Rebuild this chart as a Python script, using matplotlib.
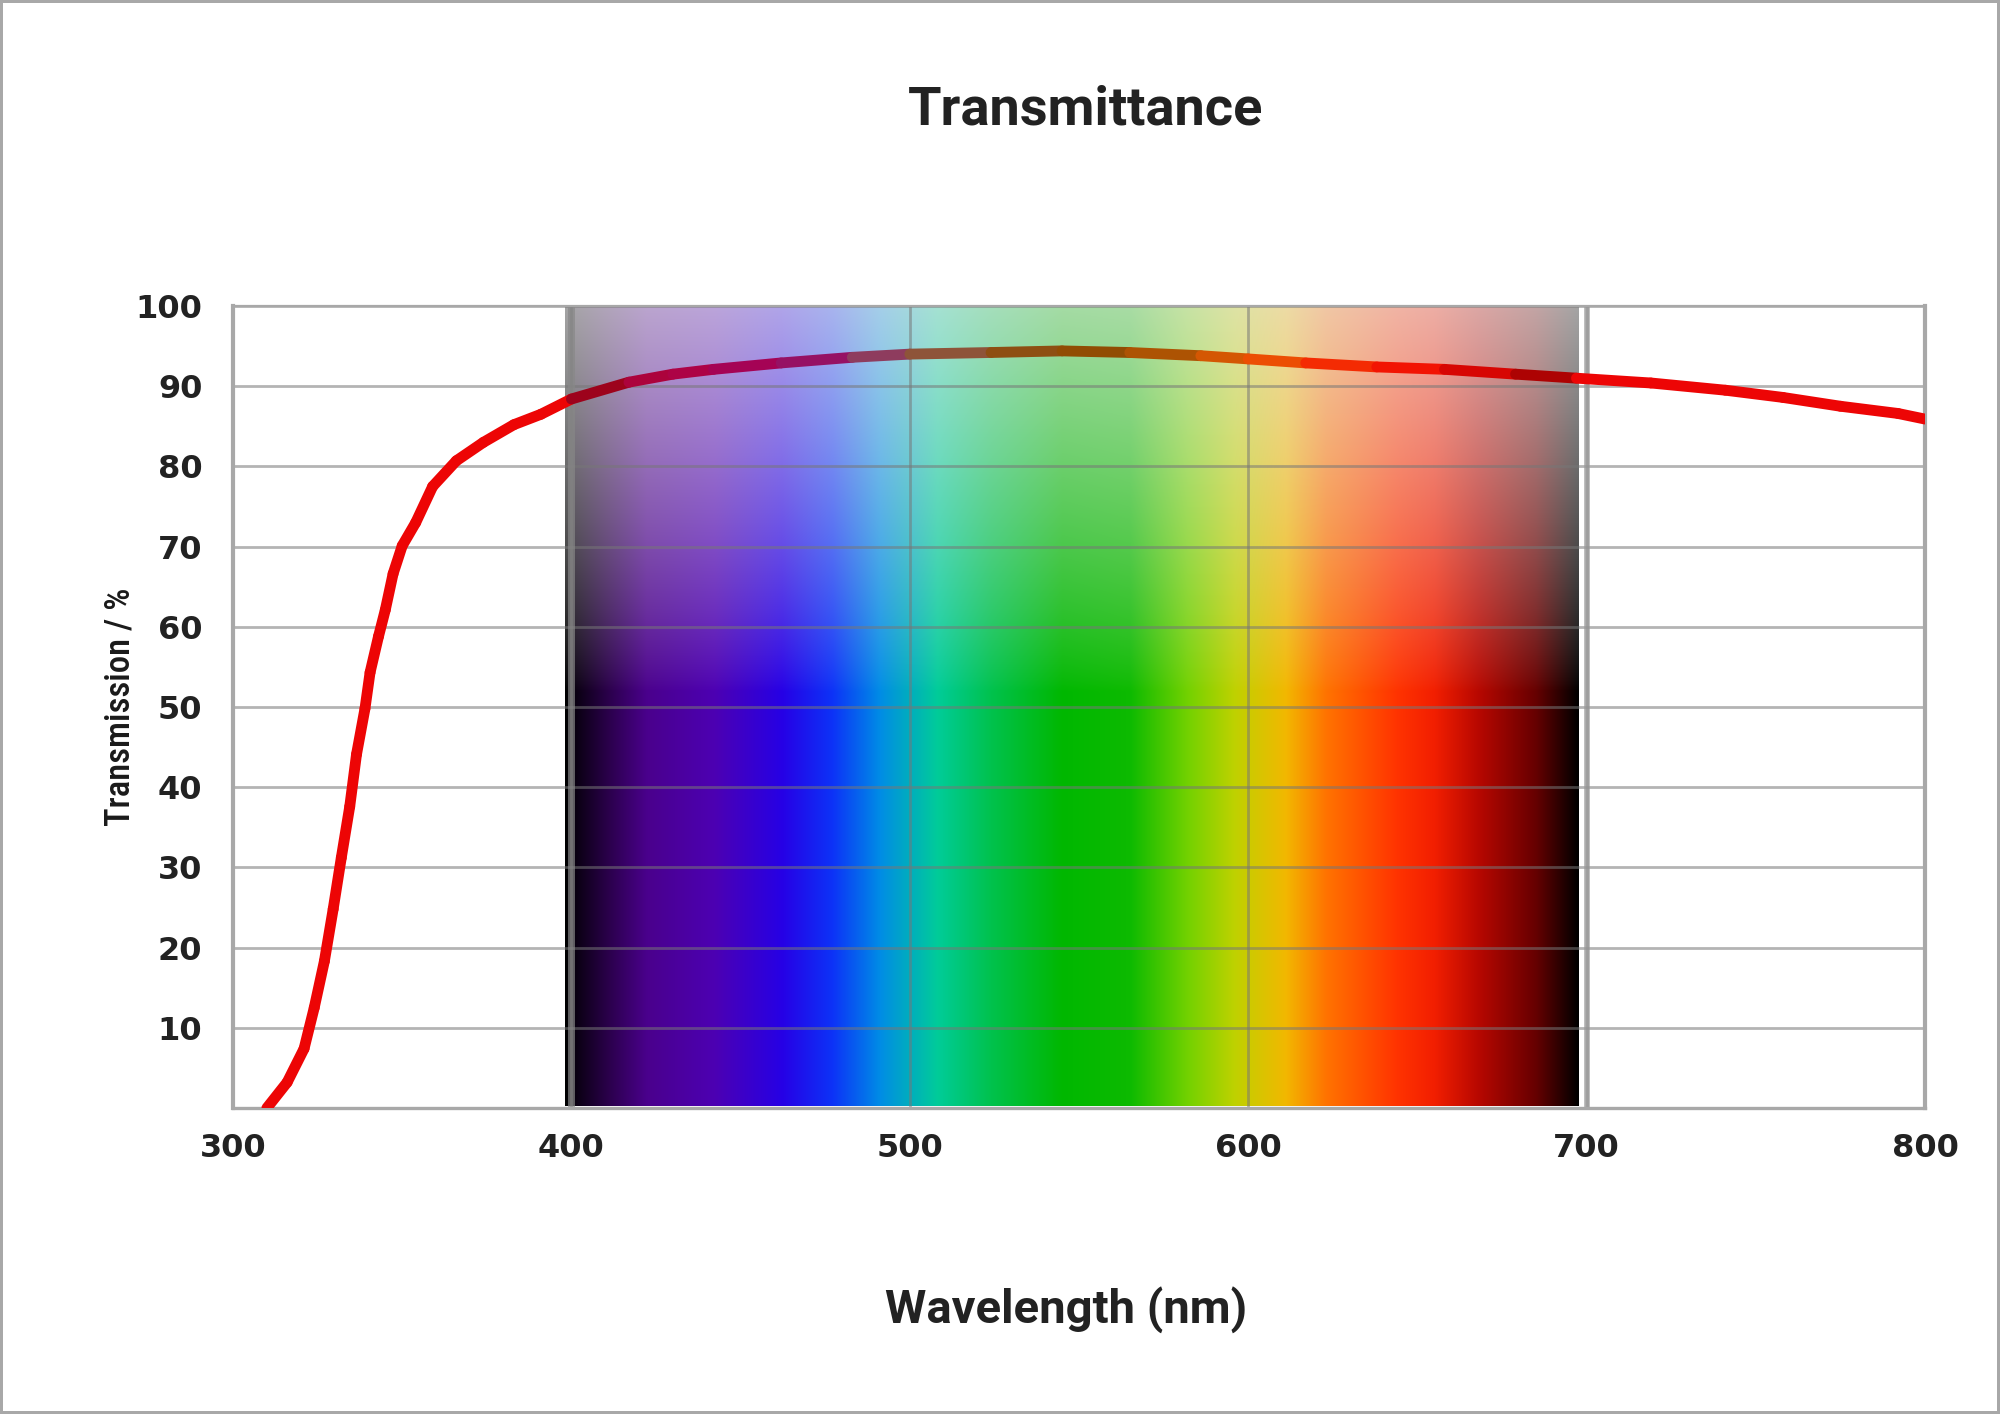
import numpy as np
import matplotlib
matplotlib.use('Agg')
from matplotlib import pyplot as plt
from matplotlib.collections import LineCollection

# curve
wavelength = [310, 316, 321, 324, 327, 329.6, 332, 334.5, 336.5, 339, 340.5, 343, 345, 347.3, 350,
              354, 359, 366, 374, 383, 391, 400, 417, 430, 442, 462, 483, 500, 524, 545,
              565, 586, 600, 617, 638, 658, 679, 697, 719, 741, 758, 775, 792, 800]
transmission = [0, 3.2, 7.4, 12.5, 18.3, 24.8, 31.2, 37.6, 44.1, 49.8, 54.3, 58.8, 62.1, 66.6, 70.1,
                73.0, 77.5, 80.7, 83.0, 85.2, 86.5, 88.4, 90.5, 91.5, 92.1, 92.9, 93.6, 94.0, 94.2, 94.4,
                94.2, 93.8, 93.4, 92.9, 92.4, 92.1, 91.5, 91.0, 90.4, 89.5, 88.6, 87.5, 86.6, 85.9]

x_ticks = [300, 400, 500, 600, 700, 800]
y_ticks = [10, 20, 30, 40, 50, 60, 70, 80, 90, 100]

# visible spectrum band behind the curve
spec_nm = [398, 410, 422, 442, 462, 477, 491, 508, 524, 545, 565, 582, 596, 611, 623, 644, 655, 668, 685, 697.5]
spec_rgb = [(0, 0, 0), (0.16, 0, 0.28), (0.29, 0, 0.55), (0.3, 0, 0.7), (0.15, 0, 0.9),
            (0.05, 0.2, 0.97), (0, 0.55, 0.9), (0, 0.8, 0.6), (0, 0.76, 0.3), (0, 0.72, 0),
            (0.05, 0.73, 0), (0.45, 0.82, 0), (0.75, 0.82, 0), (0.95, 0.72, 0), (1, 0.45, 0),
            (1, 0.2, 0), (0.95, 0.12, 0), (0.72, 0.03, 0), (0.4, 0, 0), (0, 0, 0)]
spec_left, spec_right = 398, 697.5


def spectrum_color(nm, t):
    rgb = np.array([np.interp(nm, spec_nm, [c[i] for c in spec_rgb]) for i in range(3)])
    fade = np.where(t > 52, 0.7 * np.clip((t - 52) / 48, 0, 1) ** 0.8, 0)
    return rgb * (1 - fade) + 0.92 * fade


fig = plt.figure(figsize=(10, 7.07), dpi=200)
fig.patch.set_edgecolor('#a8a8a8')
fig.patch.set_linewidth(2)
ax = fig.add_axes([0.1165, 0.2164, 0.8460, 0.5672])

nx, ny = 600, 400
gx = np.linspace(spec_left, spec_right, nx)
gy = np.linspace(0.3, 100, ny)
img = np.zeros((ny, nx, 3))
for j, yv in enumerate(gy):
    img[j] = spectrum_color(gx, yv).T
ax.imshow(img, origin='lower', extent=[spec_left, spec_right, 0.3, 100],
          aspect='auto', interpolation='bilinear', zorder=0)

ax.set_xlim(300, 800)
ax.set_ylim(0, 100)
ax.set_xticks(x_ticks)
ax.set_yticks(y_ticks)
ax.grid(True, color='#777777', alpha=0.55, linewidth=1.0)
ax.axvline(400, color='#888888', alpha=0.7, linewidth=2.5, zorder=1.6)
ax.axvline(700, color='#999999', alpha=0.8, linewidth=2.0, zorder=1.6)

for side, lw in [('left', 1.5), ('right', 1.5), ('top', 0.8), ('bottom', 1.2)]:
    ax.spines[side].set_color('#a8a8a8')
    ax.spines[side].set_linewidth(lw)

ax.tick_params(length=0, labelcolor='#222222')
ax.tick_params(axis='y', pad=11)
ax.tick_params(axis='x', pad=9)
for lab in ax.get_xticklabels() + ax.get_yticklabels():
    lab.set_fontfamily('DejaVu Sans')
    lab.set_fontweight('bold')
    lab.set_fontsize(11.5)

# curve: red on white, tinted by the pure spectrum colour where it crosses the band
red = np.array([0.93, 0.02, 0.02])
pts = np.column_stack([wavelength, transmission])
segs = np.stack([pts[:-1], pts[1:]], axis=1)
colors = []
for (x0, y0), (x1, y1) in zip(pts[:-1], pts[1:]):
    xm = (x0 + x1) / 2
    if spec_left + 3 < xm < spec_right:
        pure = spectrum_color(np.array([xm]), 0)[:, 0]
        colors.append(0.6 * red + 0.4 * pure)
    else:
        colors.append(red)
lc = LineCollection(segs, colors=colors, linewidths=3.9, capstyle='round', joinstyle='round', zorder=3)
ax.add_collection(lc)

ax.set_ylabel('Transmission / %', family=['Roboto Condensed', 'Roboto'], fontweight='medium',
              fontsize=12.5, color='#1a1a1a')
ax.yaxis.set_label_coords(-0.057, 0.5)

fig.text(0.543, 0.922, 'Transmittance', ha='center', va='center', family=['Roboto', 'DejaVu Sans'],
         fontweight='bold', fontsize=19.5, color='#222222')
fig.text(0.533, 0.0736, 'Wavelength (nm)', ha='center', va='center', family=['Roboto', 'DejaVu Sans'],
         fontweight='bold', fontsize=17, color='#222222')

fig.savefig('out.png', dpi=200)
plt.close()
